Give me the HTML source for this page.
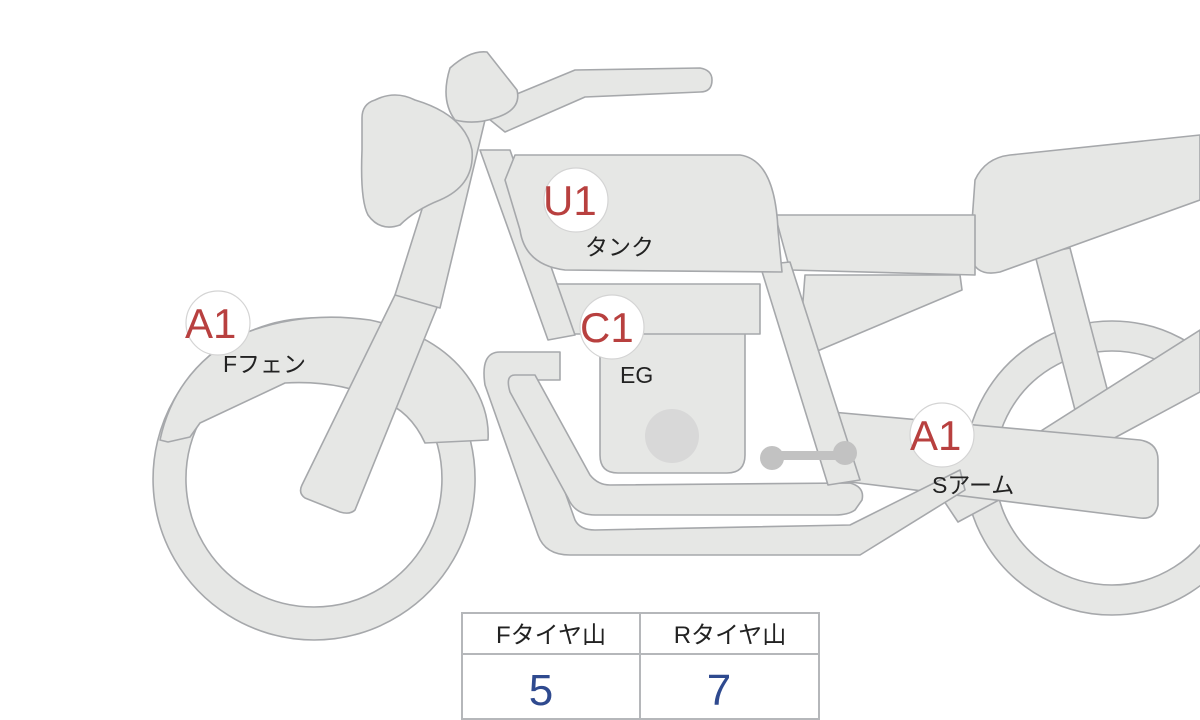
<!DOCTYPE html>
<html><head><meta charset="utf-8"><style>
html,body{margin:0;padding:0;background:#fff;width:1200px;height:720px;overflow:hidden}
svg{display:block}
.s{fill:#e6e7e5;stroke:#a6a8ab;stroke-width:1.6;stroke-linejoin:round}
.lbl{font-family:"Liberation Sans","Noto Sans CJK JP",sans-serif;fill:#b8403f;font-size:42px}
.t{font-family:"Liberation Sans","Noto Sans CJK JP",sans-serif;fill:#222;font-size:23px}
.c{fill:#fff;stroke:#d4d4d4;stroke-width:1.2}
</style></head><body>
<svg width="1200" height="720" viewBox="0 0 1200 720" xmlns="http://www.w3.org/2000/svg">
<path class="s" fill-rule="evenodd" d="M1112,321 a147,147 0 1,0 0.1,0 Z M1112,351 a117,117 0 1,1 -0.1,0 Z"/>
<path class="s" d="M1035,255 L1070,248 L1110,400 L1075,410 Z"/>
<path class="s" d="M940,495 L1200,330 L1200,392 L958,522 Z"/>
<path class="s" d="M810,410 L1140,440 Q1158,443 1158,460 L1158,505 Q1155,520 1140,518 L850,482 Z"/>
<path class="s" d="M975,180 Q985,158 1010,155 L1200,135 L1200,200 L1000,272 Q972,278 970,250 Z"/>
<path class="s" d="M775,215 L975,215 L975,275 L790,270 Z"/>
<path class="s" d="M805,275 L960,275 L962,290 L815,352 Q800,355 800,340 Z"/>
<path class="s" fill-rule="evenodd" d="M500,352 L560,352 L560,380 L525,380 L575,520 Q580,530 595,530 L850,525 L960,470 L965,490 L860,555 L570,555 Q545,555 538,535 L485,385 Q480,352 500,352 Z"/>
<path class="s" d="M515,375 L535,375 L590,475 Q598,485 610,485 L850,483 Q865,487 862,500 L855,510 Q848,515 835,515 L595,515 Q575,515 568,498 L510,392 Q505,375 515,375 Z"/>
<path class="s" d="M760,265 L790,262 L860,480 L828,485 Z"/>
<path class="s" d="M600,330 L745,330 L745,455 Q745,473 727,473 L618,473 Q600,473 600,455 Z"/>
<circle cx="672" cy="436" r="27" fill="#d8d8d8"/>
<rect class="s" x="557" y="284" width="203" height="50"/>
<g fill="#c2c2c2"><circle cx="772" cy="458" r="12"/><circle cx="845" cy="453" r="12"/><rect x="772" y="451" width="73" height="9"/></g>
<path class="s" d="M480,150 L510,150 L575,335 L548,340 Z"/>
<path class="s" d="M515,155 L740,155 Q775,160 778,230 L782,272 L565,270 Q525,265 520,230 L505,180 Z"/>
<path class="s" d="M478,110 L575,70 L700,68 Q712,70 712,80 Q712,92 700,92 L585,97 L505,132 Z"/>
<path class="s" fill-rule="evenodd" d="M314,318 a161,161 0 1,0 0.1,0 Z M314,351 a128,128 0 1,1 -0.1,0 Z"/>
<path class="s" d="M160,440 Q175,370 240,335 Q300,310 370,320 Q440,335 470,380 Q490,410 488,440 L425,443 Q410,410 380,400 Q340,380 285,383 L200,423 L190,437 L168,442 Z"/>
<path class="s" d="M395,295 L440,300 L355,510 Q350,515 340,512 L305,498 Q298,493 302,485 Z"/>
<path class="s" d="M395,295 L450,120 L485,120 L440,308 Z"/>
<path class="s" d="M375,100 Q395,90 415,100 Q465,115 472,150 Q475,185 440,200 Q415,210 400,225 Q380,232 368,215 Q360,200 362,150 L362,118 Q362,104 375,100 Z"/>
<path class="s" d="M450,68 Q470,50 487,52 L517,90 Q522,110 495,118 Q475,125 455,120 Q440,100 450,68 Z"/>
<circle class="c" cx="576" cy="200" r="32"/><text class="lbl" x="543" y="215">U1</text>
<text class="t" x="585" y="255">タンク</text>
<circle class="c" cx="218" cy="323" r="32"/><text class="lbl" x="185" y="338">A1</text>
<text class="t" x="223" y="372">Fフェン</text>
<circle class="c" cx="612" cy="327" r="32"/><text class="lbl" x="580" y="342">C1</text>
<text class="t" x="620" y="383">EG</text>
<circle class="c" cx="942" cy="435" r="32"/><text class="lbl" x="910" y="450">A1</text>
<text class="t" x="932" y="493">Sアーム</text>
<rect x="462" y="613" width="357" height="106" fill="#fff" stroke="#b5b7ba" stroke-width="2"/>
<line x1="462" y1="654" x2="819" y2="654" stroke="#b5b7ba" stroke-width="2"/>
<line x1="640" y1="613" x2="640" y2="719" stroke="#b5b7ba" stroke-width="2"/>
<text class="t" x="551" y="643" text-anchor="middle" style="font-size:24px">Fタイヤ山</text>
<text class="t" x="730" y="643" text-anchor="middle" style="font-size:24px">Rタイヤ山</text>
<text x="541" y="705" text-anchor="middle" style="font-family:'Liberation Sans',sans-serif;font-size:44px;fill:#2f4a8f">5</text>
<text x="719" y="705" text-anchor="middle" style="font-family:'Liberation Sans',sans-serif;font-size:44px;fill:#2f4a8f">7</text>
</svg>
</body></html>
